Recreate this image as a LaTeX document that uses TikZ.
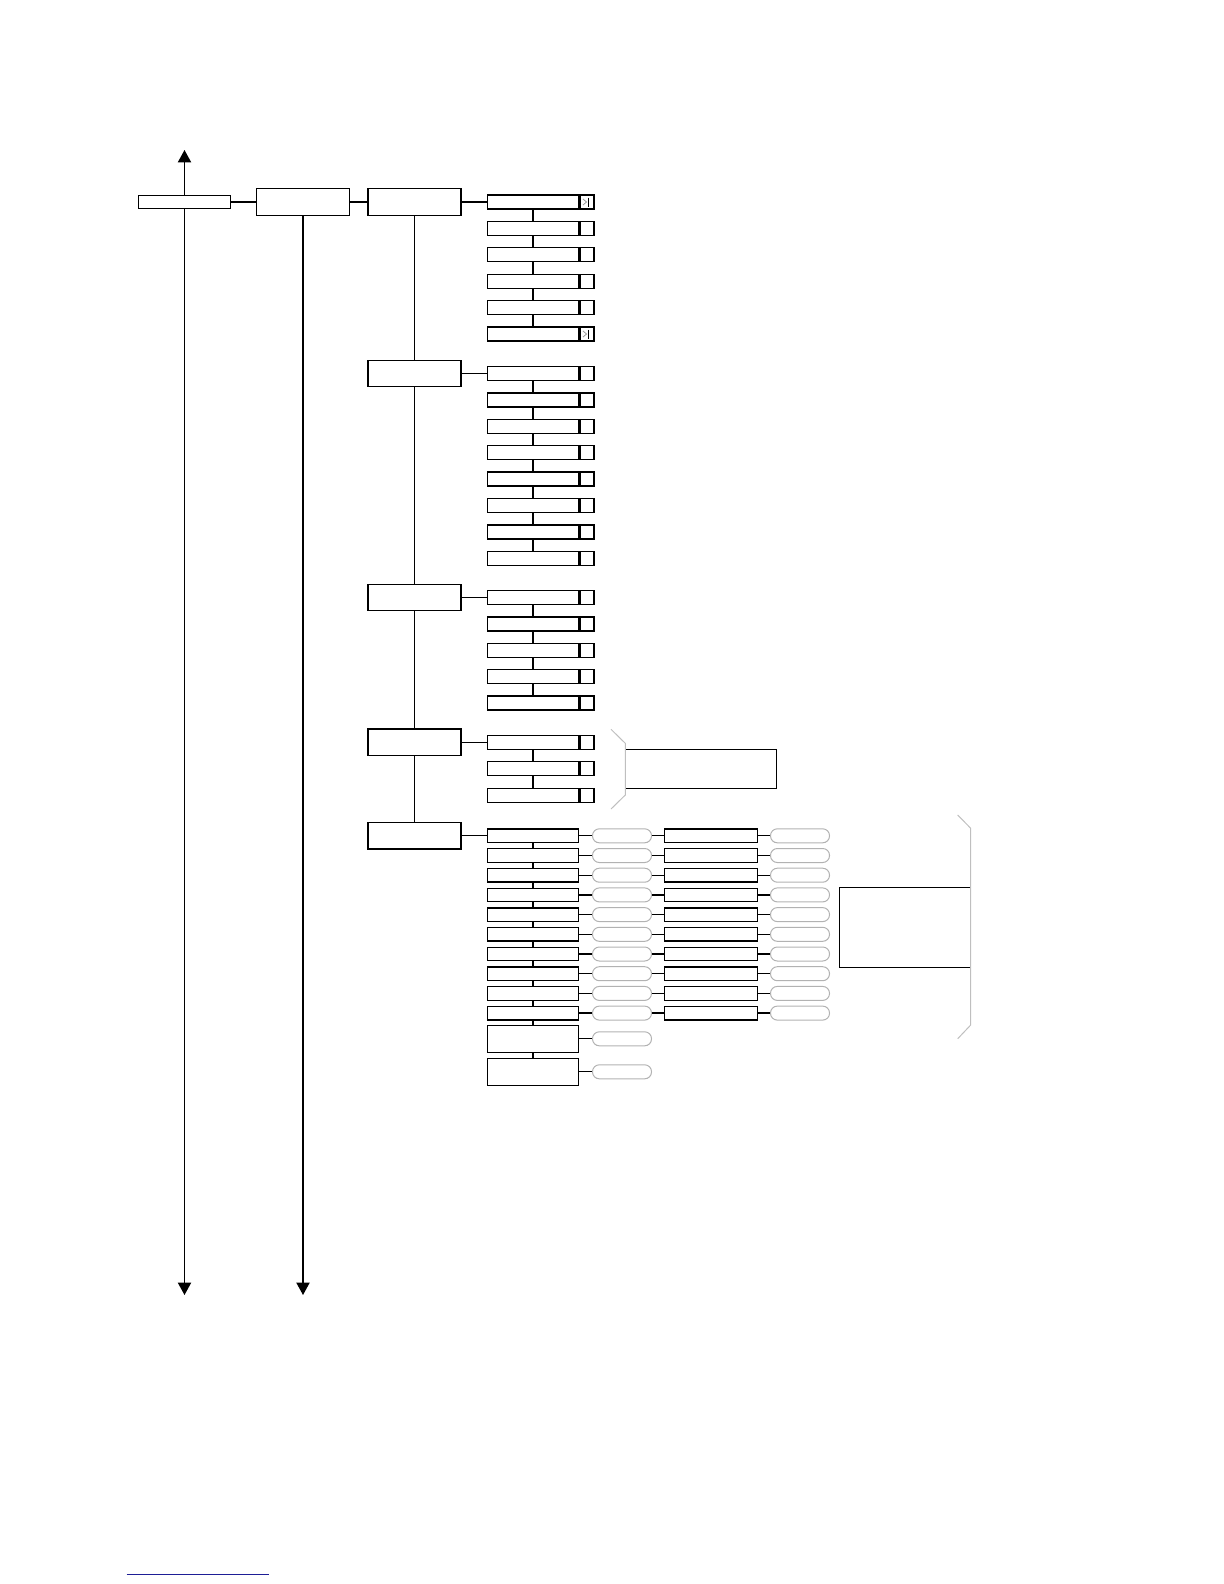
\documentclass[tikz,border=0pt]{standalone}
\usepackage{xcolor}
\usetikzlibrary{positioning, calc, arrows.meta}

\definecolor{linkblue}{RGB}{30,30,150}

\tikzset{
    barbox/.style={draw, rectangle, inner sep=0pt, minimum width=46.2pt, minimum height=6.7pt},
    menubox/.style={draw, rectangle, inner sep=0pt, minimum width=46.5pt, minimum height=13.2pt},
    itembox/.style={draw, rectangle, inner sep=0pt, minimum width=45.6pt, minimum height=7pt},
    flagbox/.style={draw, rectangle, inner sep=0pt, minimum width=7.1pt, minimum height=7pt},
    rowbox/.style={draw, rectangle, inner sep=0pt, minimum width=45.7pt, minimum height=6.75pt},
    tallbox/.style={draw, rectangle, inner sep=0pt, minimum width=45.7pt, minimum height=13.5pt},
    widebox/.style={draw, rectangle, inner sep=0pt, minimum width=46.7pt, minimum height=6.75pt},
    ovalbox/.style={draw=black!30, line width=0.5pt, rectangle, rounded corners=3.4pt, inner sep=0pt, minimum width=29.5pt, minimum height=7pt},
    notebox/.style={draw, rectangle, inner sep=0pt},
    bracketline/.style={draw=black!25, line width=0.5pt},
    bigarrow/.style={-{Triangle[length=6.2pt 0, width=6.6pt 0]}}
}

\begin{document}
\begin{tikzpicture}[x=0.5pt, y=-0.5pt, line width=0.65pt]
    \useasboundingbox (0,0) rectangle (1224,1584);

    % Top level bar with the arrows up and down
    \node[barbox] (top) at (184.5,202) {};
    \coordinate (topup) at (184.5,150);
    \coordinate (topdown) at (184.5,1295);
    \draw[bigarrow] (top.north) -- (topup);
    \draw[bigarrow] (top.south) -- (topdown);

    % Second level: one menu with its own down arrow
    \node[menubox] (sub) at (303,202) {};
    \coordinate (subdown) at (303,1295);
    \draw (top) -- (sub);
    \draw[bigarrow] (sub.south) -- (subdown);

    % Third level: the five groups on one spine
    \node[menubox] (grpa) at (414.5,202) {};
    \node[menubox] (grpb) at (414.5,373.5) {};
    \node[menubox] (grpc) at (414.5,597.5) {};
    \node[menubox] (grpd) at (414.5,742.3) {};
    \node[menubox] (grpe) at (414.5,835.8) {};
    \draw (sub) -- (grpa);
    \draw (grpa) -- (grpb) -- (grpc) -- (grpd) -- (grpe);

    % Group a: six settings, the first and last flagged
    \foreach \i in {1,...,6}{
        \node[itembox] (a\i) at (533,{202+(\i-1)*26.4}) {};
        \node[flagbox, right=0pt of a\i] (fa\i) {};
    }
    \draw (grpa) -- (a1);
    \foreach \i [remember=\i as \last (initially 1)] in {2,...,6}
        \draw (a\last) -- (a\i);
    \foreach \f in {fa1, fa6}{
        \draw[black!40, line width=0.4pt] ($(\f.center)+(-4,-3)$) -- ($(\f.center)+(-0.5,0)$) -- ($(\f.center)+(-4,3)$);
        \draw[line width=0.5pt] ($(\f.center)+(1,-4.5)$) -- ($(\f.center)+(1,4.5)$);
    }

    % Group b: eight settings
    \foreach \i in {1,...,8}{
        \node[itembox] (b\i) at (533,{373.5+(\i-1)*26.4}) {};
        \node[flagbox, right=0pt of b\i] (fb\i) {};
    }
    \draw (grpb) -- (b1);
    \foreach \i [remember=\i as \last (initially 1)] in {2,...,8}
        \draw (b\last) -- (b\i);

    % Group c: five settings
    \foreach \i in {1,...,5}{
        \node[itembox] (c\i) at (533,{597.5+(\i-1)*26.4}) {};
        \node[flagbox, right=0pt of c\i] (fc\i) {};
    }
    \draw (grpc) -- (c1);
    \foreach \i [remember=\i as \last (initially 1)] in {2,...,5}
        \draw (c\last) -- (c\i);

    % Group d: three settings and a note with its bracket
    \foreach \i in {1,...,3}{
        \node[itembox] (d\i) at (533,{742.3+(\i-1)*26.5}) {};
        \node[flagbox, right=0pt of d\i] (fd\i) {};
    }
    \draw (grpd) -- (d1);
    \foreach \i [remember=\i as \last (initially 1)] in {2,...,3}
        \draw (d\last) -- (d\i);
    \node[notebox, minimum width=75.7pt, minimum height=19.5pt] (noted) at (701,768.8) {};
    \draw[bracketline] (611,729.3) -- (625.3,743.3) -- (625.3,795) -- (611,809);

    % Group e: ten rows with values, two tall rows, and a note
    \foreach \i in {1,...,10}{
        \node[rowbox] (e\i) at (533,{835.8+(\i-1)*19.7}) {};
        \node[ovalbox] (eo\i) at (622,{835.8+(\i-1)*19.7}) {};
        \node[widebox] (ew\i) at (711,{835.8+(\i-1)*19.7}) {};
        \node[ovalbox] (ep\i) at (800,{835.8+(\i-1)*19.7}) {};
        \draw (e\i) -- (eo\i);
        \draw (eo\i) -- (ew\i);
        \draw (ew\i) -- (ep\i);
    }
    \node[tallbox] (e11) at (533,1038.8) {};
    \node[tallbox] (e12) at (533,1071.8) {};
    \node[ovalbox] (eo11) at (622,1038.8) {};
    \node[ovalbox] (eo12) at (622,1071.8) {};
    \draw (e11) -- (eo11);
    \draw (e12) -- (eo12);
    \draw (grpe) -- (e1);
    \foreach \i [remember=\i as \last (initially 1)] in {2,...,12}
        \draw (e\last) -- (e\i);
    \node[notebox, minimum width=65.7pt, minimum height=40pt] (notee) at (905,927.3) {};
    \draw[bracketline] (957.7,815) -- (970.7,828.3) -- (970.7,1025) -- (957.7,1038.7);

    % Link line at the foot of the page
    \draw[linkblue, line width=0.6pt] (126.7,1574.7) -- (269,1574.7);

\end{tikzpicture}
\end{document}
